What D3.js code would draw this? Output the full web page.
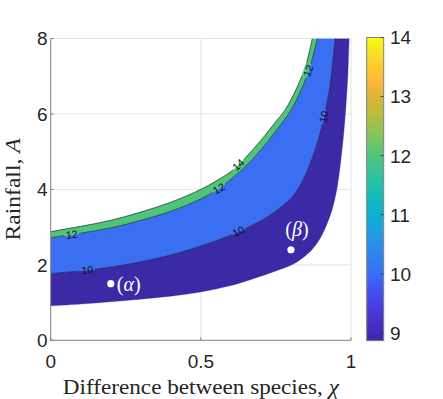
<!DOCTYPE html>
<html><head><meta charset="utf-8">
<script src="https://cdn.jsdelivr.net/npm/d3@7"></script>
<style>body{margin:0;background:#fff}svg{display:block}</style>
</head><body><svg id="c" width="443" height="399"></svg>
<script>
// ---------- data ----------
const xTicks = [0, 0.5, 1];
const xTickLabels = ["0", "0.5", "1"];
const yTicks = [0, 2, 4, 6, 8];
const cbTicks = [9, 10, 11, 12, 13, 14];
const cbDomain = [8.87, 14];
const levels = [10, 12, 14];
// boundaries of the filled regions, [chi, A]
const lowerEdge = [[0,0.91],[0.1,0.96],[0.2,1.02],[0.3,1.09],[0.4,1.17],[0.5,1.28],[0.6,1.45],[0.7,1.7],[0.75,1.84],[0.8,1.99],[0.83,2.13],[0.86,2.32],[0.88,2.5],[0.9,2.74],[0.92,3.08],[0.94,3.55],[0.955,4.1],[0.966,4.75],[0.976,5.5],[0.984,6.3],[0.99,7.1],[0.994,8.0]];
const contour10 = [[0,1.77],[0.1,1.84],[0.2,1.94],[0.3,2.08],[0.4,2.26],[0.5,2.5],[0.6,2.79],[0.7,3.17],[0.75,3.43],[0.8,3.76],[0.82,3.97],[0.84,4.25],[0.86,4.6],[0.88,5.03],[0.9,5.58],[0.915,6.1],[0.93,6.75],[0.947,8.0]];
const contour12 = [[0,2.72],[0.1,2.84],[0.2,2.98],[0.3,3.18],[0.4,3.42],[0.5,3.75],[0.56,4.02],[0.6,4.27],[0.65,4.62],[0.7,5.05],[0.75,5.55],[0.8,6.1],[0.84,6.75],[0.865,7.3],[0.888,8.0]];
const contour14 = [[0,2.88],[0.1,3.02],[0.2,3.18],[0.3,3.4],[0.4,3.66],[0.5,4.0],[0.55,4.22],[0.6,4.47],[0.625,4.65],[0.65,4.85],[0.7,5.3],[0.75,5.8],[0.78,6.1],[0.82,6.7],[0.85,7.3],[0.871,8.0]];
const contourLabelLevels = [12, 10, 10, 12, 14, 12, 10];
const contourLabelChi    = [0.07, 0.122, 0.625, 0.56, 0.625, 0.858, 0.91];
const pointNames = ["α", "β"];
const pointChi = [0.2, 0.8];
const pointA = [1.5, 2.4];

// ---------- styles ----------
const bandColors = ["#3b2aa6", "#3a6ff4", "#4fc57b"];
const parulaStops = [[0,"#3e26a8"],[0.06,"#4630c6"],[0.12,"#4840e4"],[0.18,"#4258f6"],[0.222,"#3a6ff4"],[0.3,"#2d89ec"],[0.36,"#1f9ee0"],[0.42,"#0cb2cd"],[0.48,"#14bcb8"],[0.54,"#30c19e"],[0.61,"#4fc57b"],[0.68,"#86c45a"],[0.74,"#b3bd3f"],[0.8,"#d9b437"],[0.855,"#fbb83b"],[0.9,"#fbca2f"],[0.95,"#f5e124"],[1,"#f9fb15"]];

const svg = d3.select("#c");
const x = d3.scaleLinear([0, 1], [50.7, 351]);
const y = d3.scaleLinear([0, 8], [340.3, 38.5]);
const tickFont = "'Liberation Sans', Arial, sans-serif";
const serif = "'Liberation Serif', 'Times New Roman', serif";

const defs = svg.append("defs");
defs.append("clipPath").attr("id", "plotClip").append("rect")
  .attr("x", x(0)).attr("y", y(8)).attr("width", x(1) - x(0)).attr("height", y(0) - y(8));

// grid
const grid = svg.append("g").attr("stroke", "#e4e4e4").attr("stroke-width", 1);
xTicks.filter(t => t > 0).forEach(t => grid.append("line").attr("x1", x(t)).attr("x2", x(t)).attr("y1", y(0)).attr("y2", y(8)));
yTicks.filter(t => t > 0).forEach(t => grid.append("line").attr("x1", x(0)).attr("x2", x(1)).attr("y1", y(t)).attr("y2", y(t)));

// filled bands
const line = d3.line(d => x(d[0]), d => y(d[1])).curve(d3.curveCatmullRom.alpha(0.5));
function band(a, b) {
  return line(a) + line(b.slice().reverse()).replace(/^M/, "L") + "Z";
}
const curves = [lowerEdge, contour10, contour12, contour14];
const plot = svg.append("g").attr("clip-path", "url(#plotClip)");
for (let i = 0; i < 3; i++) {
  plot.append("path").attr("d", band(curves[i], curves[i + 1])).attr("fill", bandColors[i]).attr("stroke", bandColors[i]).attr("stroke-width", 0.3);
}

// label positions
function onCurve(c, chi) {
  let i = 0;
  while (i < c.length - 2 && c[i + 1][0] < chi) i++;
  const p = c[i], q = c[i + 1];
  const t = (chi - p[0]) / (q[0] - p[0]);
  const A = p[1] + t * (q[1] - p[1]);
  let ang = Math.atan2(y(q[1]) - y(p[1]), x(q[0]) - x(p[0])) * 180 / Math.PI;
  if (ang > 90) ang -= 180; if (ang <= -90) ang += 180;
  return {px: x(chi), py: y(A), ang};
}
const levelCurve = {10: contour10, 12: contour12, 14: contour14};
const labs = contourLabelLevels.map((lv, i) => Object.assign({lv}, onCurve(levelCurve[lv], contourLabelChi[i])));

// mask for gaps in contour lines
const mask = defs.append("mask").attr("id", "lblMask").attr("maskUnits", "userSpaceOnUse")
  .attr("x", 0).attr("y", 0).attr("width", 443).attr("height", 399);
mask.append("rect").attr("x", 0).attr("y", 0).attr("width", 443).attr("height", 399).attr("fill", "#fff");
labs.forEach(l => mask.append("rect").attr("x", -7.5).attr("y", -4.5).attr("width", 15).attr("height", 9)
  .attr("fill", "#000").attr("transform", `translate(${l.px},${l.py}) rotate(${l.ang})`));

const lines = plot.append("g").attr("mask", "url(#lblMask)");
levels.forEach(lv => lines.append("path").attr("d", line(levelCurve[lv])).attr("fill", "none")
  .attr("stroke", "#141414").attr("stroke-width", 0.6));

labs.forEach(l => svg.append("text").text(l.lv)
  .attr("transform", `translate(${l.px},${l.py}) rotate(${l.ang})`)
  .attr("text-anchor", "middle").attr("dy", "0.35em")
  .attr("font-family", tickFont).attr("font-size", 10.5).attr("fill", "#111"));

// points
pointNames.forEach((n, i) => {
  svg.append("circle").attr("cx", x(pointChi[i])).attr("cy", y(pointA[i])).attr("r", 3.6).attr("fill", "#fff");
});
const tA = svg.append("text").attr("x", x(pointChi[0]) + 6).attr("y", y(pointA[0]) + 7)
  .attr("font-family", serif).attr("font-size", 20).attr("fill", "#fff");
tA.append("tspan").text("(");
tA.append("tspan").attr("font-style", "italic").text(pointNames[0]);
tA.append("tspan").text(")");
const tB = svg.append("text").attr("x", x(pointChi[1]) + 6).attr("y", y(pointA[1]) - 14)
  .attr("text-anchor", "middle").attr("font-family", serif).attr("font-size", 20).attr("fill", "#fff");
tB.append("tspan").text("(");
tB.append("tspan").attr("font-style", "italic").text(pointNames[1]);
tB.append("tspan").text(")");

// axes
const ax = svg.append("g").attr("stroke", "#808080").attr("stroke-width", 1);
ax.append("line").attr("x1", x(0)).attr("x2", x(0)).attr("y1", y(0) + 0.5).attr("y2", y(8));
ax.append("line").attr("x1", x(0)).attr("x2", x(1)).attr("y1", y(0)).attr("y2", y(0));
yTicks.forEach(t => ax.append("line").attr("x1", x(0)).attr("x2", x(0) + 3).attr("y1", y(t)).attr("y2", y(t)));
xTicks.forEach(t => ax.append("line").attr("x1", x(t)).attr("x2", x(t)).attr("y1", y(0)).attr("y2", y(0) - 3));

yTicks.forEach(t => svg.append("text").text(t).attr("x", 47.5).attr("y", y(t)).attr("dy", "0.36em")
  .attr("text-anchor", "end").attr("font-family", tickFont).attr("font-size", 19).attr("fill", "#262626"));
xTicks.forEach((t, i) => svg.append("text").text(xTickLabels[i]).attr("x", x(t)).attr("y", 367.5)
  .attr("text-anchor", "middle").attr("font-family", tickFont).attr("font-size", 19).attr("fill", "#262626"));

// axis titles
const xl = svg.append("text").attr("x", x(0.5)).attr("y", 394).attr("text-anchor", "middle")
  .attr("font-family", serif).attr("font-size", 21).attr("fill", "#262626")
  .attr("textLength", 276).attr("lengthAdjust", "spacingAndGlyphs");
xl.append("tspan").text("Difference between species, ");
xl.append("tspan").attr("font-style", "italic").text("χ");
const yl = svg.append("text").attr("transform", `translate(20,${(y(0) + y(8)) / 2}) rotate(-90)`)
  .attr("text-anchor", "middle").attr("font-family", serif).attr("font-size", 21).attr("fill", "#262626")
  .attr("textLength", 102).attr("lengthAdjust", "spacingAndGlyphs");
yl.append("tspan").text("Rainfall, ");
yl.append("tspan").attr("font-style", "italic").text("A");

// colorbar
const cb = d3.scaleLinear(cbDomain, [340.7, 37.5]);
const grad = defs.append("linearGradient").attr("id", "parula").attr("x1", 0).attr("y1", 1).attr("x2", 0).attr("y2", 0);
parulaStops.forEach(s => grad.append("stop").attr("offset", s[0]).attr("stop-color", s[1]));
const cbx0 = 366.7, cbx1 = 383.7;
svg.append("rect").attr("x", cbx0).attr("y", cb(cbDomain[1])).attr("width", cbx1 - cbx0)
  .attr("height", cb(cbDomain[0]) - cb(cbDomain[1])).attr("fill", "url(#parula)")
  .attr("stroke", "#808080").attr("stroke-width", 1);
cbTicks.forEach(t => {
  svg.append("line").attr("x1", cbx1 - 3).attr("x2", cbx1).attr("y1", cb(t)).attr("y2", cb(t)).attr("stroke", "#404040").attr("stroke-width", 1);
  svg.append("text").text(t).attr("x", 390).attr("y", cb(t)).attr("dy", "0.36em")
    .attr("font-family", tickFont).attr("font-size", 19).attr("fill", "#262626");
});
</script></body></html>
